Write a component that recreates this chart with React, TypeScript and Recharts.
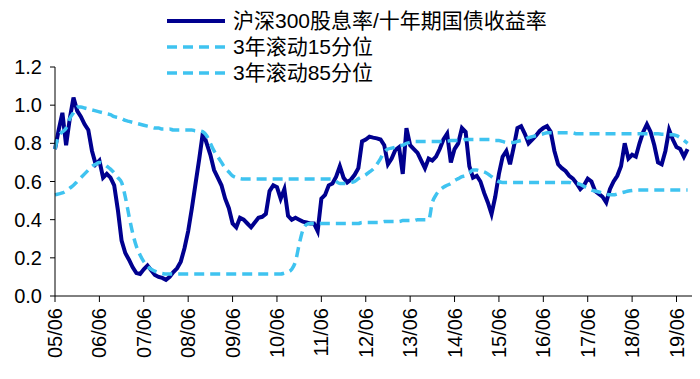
import { Line, LineChart, XAxis, YAxis } from "recharts";

// monthly, 2005/06 .. 2019/09
const startYear = 2005;
const startMonth = 6;

const dividendRatio = [
  0.77, 0.87, 0.96, 0.79, 0.93, 1.04, 0.97,
  0.94, 0.9, 0.87, 0.76, 0.69, 0.71, 0.62, 0.64, 0.62, 0.58, 0.45, 0.29,
  0.225, 0.19, 0.15, 0.12, 0.115, 0.14, 0.16, 0.135, 0.11, 0.1, 0.095, 0.085,
  0.1, 0.125, 0.145, 0.18, 0.25, 0.34, 0.46, 0.59, 0.72, 0.86, 0.8, 0.74,
  0.66, 0.62, 0.58, 0.51, 0.46, 0.38, 0.36, 0.41, 0.4, 0.38, 0.36, 0.385,
  0.41, 0.415, 0.43, 0.55, 0.58, 0.57, 0.51, 0.56, 0.42, 0.4, 0.41, 0.4,
  0.39, 0.385, 0.38, 0.38, 0.34, 0.51, 0.53, 0.58, 0.59, 0.625, 0.68, 0.62,
  0.595, 0.61, 0.635, 0.67, 0.81, 0.82, 0.835, 0.83, 0.826, 0.82, 0.79, 0.69,
  0.72, 0.765, 0.78, 0.64, 0.88, 0.79, 0.77, 0.75, 0.71, 0.67, 0.72, 0.71,
  0.73, 0.77, 0.82, 0.85, 0.7, 0.77, 0.8, 0.88, 0.86, 0.68, 0.62, 0.63,
  0.6, 0.54, 0.49, 0.43, 0.52, 0.64, 0.73, 0.76, 0.69, 0.78, 0.88, 0.89,
  0.85, 0.8, 0.82, 0.84, 0.865, 0.88, 0.89, 0.86, 0.76, 0.69, 0.67, 0.655,
  0.63, 0.615, 0.59, 0.56, 0.58, 0.615, 0.6, 0.55, 0.535, 0.52, 0.49, 0.56,
  0.6, 0.63, 0.68, 0.8, 0.72, 0.74, 0.73, 0.8, 0.86, 0.9, 0.86, 0.79,
  0.7, 0.69, 0.76, 0.87, 0.82, 0.78, 0.77, 0.73, 0.77,
];

const pct15 = [
  0.53, 0.535, 0.54, 0.55, 0.565, 0.58, 0.6,
  0.62, 0.64, 0.66, 0.68, 0.69, 0.7, 0.695, 0.68, 0.665, 0.645, 0.62, 0.595,
  0.52, 0.42, 0.33, 0.26, 0.215, 0.18, 0.155, 0.14, 0.13, 0.122, 0.118, 0.115,
  0.115, 0.115, 0.115, 0.115, 0.115, 0.115, 0.115, 0.115, 0.115, 0.115, 0.115, 0.115,
  0.115, 0.115, 0.115, 0.115, 0.115, 0.115, 0.115, 0.115, 0.115, 0.115, 0.115, 0.115,
  0.115, 0.115, 0.115, 0.115, 0.115, 0.115, 0.115, 0.12, 0.125, 0.14, 0.18, 0.27,
  0.345, 0.375, 0.38, 0.38, 0.38, 0.38, 0.38, 0.38, 0.38, 0.38, 0.38, 0.38,
  0.38, 0.38, 0.38, 0.38, 0.385, 0.385, 0.385, 0.385, 0.385, 0.385, 0.39, 0.39,
  0.39, 0.39, 0.39, 0.395, 0.395, 0.395, 0.395, 0.4, 0.4, 0.4, 0.4, 0.49,
  0.53, 0.555, 0.57, 0.58, 0.59, 0.605, 0.615, 0.625, 0.63, 0.645, 0.66, 0.66,
  0.655, 0.65, 0.64, 0.625, 0.61, 0.6, 0.595, 0.595, 0.595, 0.595, 0.595, 0.595,
  0.595, 0.595, 0.595, 0.595, 0.595, 0.595, 0.595, 0.595, 0.595, 0.595, 0.595, 0.595,
  0.595, 0.59, 0.59, 0.585, 0.575, 0.565, 0.555, 0.55, 0.545, 0.54, 0.535, 0.53,
  0.53, 0.535, 0.54, 0.545, 0.55, 0.553, 0.555, 0.555, 0.555, 0.555, 0.555, 0.555,
  0.555, 0.555, 0.555, 0.555, 0.555, 0.555, 0.555, 0.555, 0.555,
];

const pct85 = [
  0.77, 0.84, 0.86, 0.88, 0.93, 0.96, 0.99,
  0.99, 0.985, 0.98, 0.975, 0.97, 0.965, 0.96, 0.955, 0.95, 0.94, 0.935, 0.93,
  0.92, 0.915, 0.91, 0.905, 0.9, 0.895, 0.89, 0.885, 0.88, 0.88, 0.875, 0.875,
  0.875, 0.87, 0.87, 0.87, 0.87, 0.87, 0.87, 0.865, 0.865, 0.86, 0.84, 0.8,
  0.76, 0.73, 0.7, 0.67, 0.65, 0.63, 0.62, 0.615, 0.613, 0.613, 0.613, 0.613,
  0.613, 0.613, 0.613, 0.613, 0.613, 0.613, 0.613, 0.613, 0.613, 0.613, 0.613, 0.613,
  0.613, 0.613, 0.613, 0.613, 0.613, 0.613, 0.613, 0.613, 0.613, 0.6, 0.59, 0.59,
  0.59, 0.595, 0.6, 0.615, 0.625, 0.635, 0.65, 0.665, 0.69, 0.72, 0.755, 0.77,
  0.775, 0.78, 0.785, 0.79, 0.8, 0.805, 0.81, 0.81, 0.81, 0.81, 0.81, 0.81,
  0.81, 0.81, 0.81, 0.81, 0.815, 0.815, 0.815, 0.815, 0.82, 0.82, 0.82, 0.82,
  0.82, 0.82, 0.82, 0.82, 0.815, 0.815, 0.81, 0.805, 0.805, 0.805, 0.81, 0.815,
  0.82, 0.83, 0.835, 0.84, 0.845, 0.85, 0.855, 0.855, 0.855, 0.855, 0.855, 0.855,
  0.855, 0.855, 0.85, 0.85, 0.85, 0.85, 0.85, 0.85, 0.85, 0.85, 0.85, 0.85,
  0.85, 0.85, 0.85, 0.85, 0.85, 0.85, 0.85, 0.85, 0.85, 0.85, 0.85, 0.85,
  0.85, 0.848, 0.847, 0.845, 0.845, 0.84, 0.83, 0.815, 0.8,
];

const yTicks = [0, 0.2, 0.4, 0.6, 0.8, 1.0, 1.2];

const MAIN = "#00008f";
const DASH = "#3fc3f0";
const FONT = '"Liberation Sans", Arial, "Noto Sans CJK SC", sans-serif';

// two empty months at the end so the axis runs a bit past the data
const totalMonths = dividendRatio.length + 2;

const data = Array.from({ length: totalMonths }, (_, i) => {
  const m = startMonth - 1 + i;
  const yy = String((startYear + Math.floor(m / 12)) % 100).padStart(2, "0");
  const mm = String((m % 12) + 1).padStart(2, "0");
  return {
    label: `${yy}/${mm}`,
    ratio: dividendRatio[i] ?? null,
    p15: pct15[i] ?? null,
    p85: pct85[i] ?? null,
  };
});

const legendItems = [
  { name: "沪深300股息率/十年期国债收益率", color: MAIN, dashed: false },
  { name: "3年滚动15分位", color: DASH, dashed: true },
  { name: "3年滚动85分位", color: DASH, dashed: true },
];

function XTick({ x, y, payload }: any) {
  return (
    <text
      transform={`translate(${x},${y + 4}) rotate(-90)`}
      textAnchor="end"
      dominantBaseline="central"
      fontSize={20}
      fontFamily={FONT}
      fill="#000"
    >
      {payload.value}
    </text>
  );
}

function YTick({ y, payload }: any) {
  return (
    <text x={42} y={y} textAnchor="end" dominantBaseline="central" fontSize={20} fontFamily={FONT} fill="#000">
      {Number(payload.value).toFixed(1)}
    </text>
  );
}

export default function App() {
  return (
    <div style={{ position: "relative", width: 700, height: 379, marginLeft: -8, marginTop: -8, background: "#fff" }}>
      <LineChart width={700} height={379} data={data} margin={{ top: 67, right: 5, bottom: 0, left: 0 }}>
        <XAxis
          dataKey="label"
          interval={11}
          height={83}
          tick={<XTick />}
          tickSize={6}
          stroke="#000"
          tickLine={{ stroke: "#000" }}
        />
        <YAxis
          width={55}
          domain={[0, 1.2]}
          ticks={yTicks}
          tickSize={5}
          stroke="#000"
          tick={<YTick />}
        />
        <Line dataKey="ratio" type="linear" stroke={MAIN} strokeWidth={4} dot={false} isAnimationActive={false} />
        <Line dataKey="p15" type="monotone" stroke={DASH} strokeWidth={3.5} strokeDasharray="10 6" dot={false} isAnimationActive={false} />
        <Line dataKey="p85" type="monotone" stroke={DASH} strokeWidth={3.5} strokeDasharray="10 6" dot={false} isAnimationActive={false} />
      </LineChart>
      <div style={{ position: "absolute", left: 167, top: 8, fontFamily: FONT, fontSize: 21, color: "#000" }}>
        {legendItems.map((item) => (
          <div key={item.name} style={{ display: "flex", alignItems: "center", height: 26 }}>
            <svg width={58} height={8} style={{ marginRight: 8 }}>
              <line
                x1={0}
                y1={4}
                x2={58}
                y2={4}
                stroke={item.color}
                strokeWidth={item.dashed ? 3.5 : 4}
                strokeDasharray={item.dashed ? "10 6" : undefined}
              />
            </svg>
            <span style={{ whiteSpace: "nowrap", lineHeight: "26px" }}>{item.name}</span>
          </div>
        ))}
      </div>
    </div>
  );
}
